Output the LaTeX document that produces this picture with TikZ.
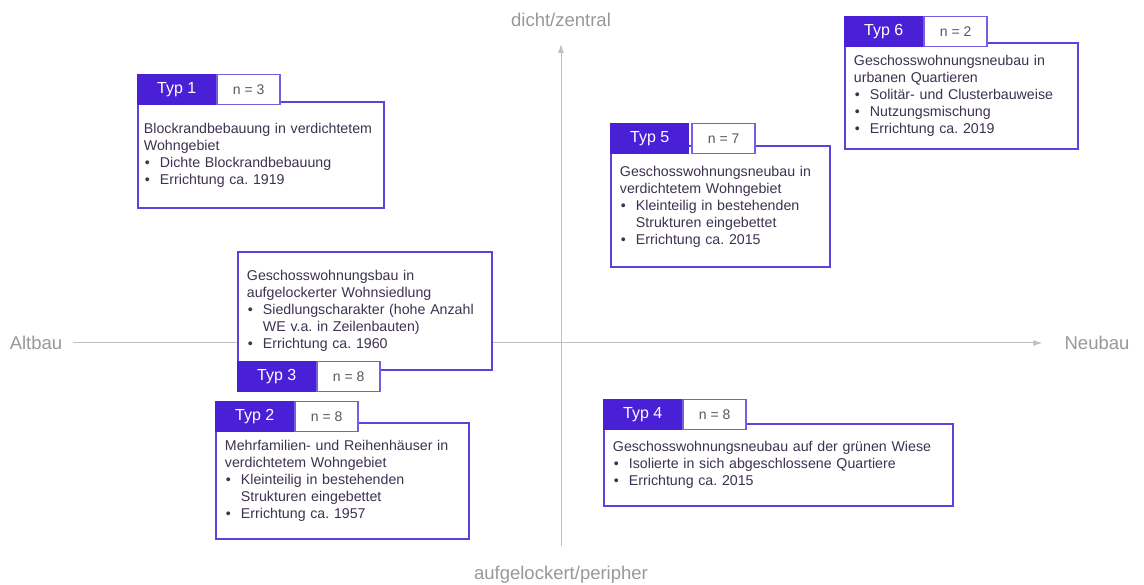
\documentclass[tikz,border=0pt]{standalone}
\usepackage{fontspec}
\setmainfont{Liberation Sans}
\usetikzlibrary{arrows.meta,positioning}

\definecolor{typviolet}{HTML}{4A20D6}
\definecolor{typborder}{HTML}{5E42DE}
\definecolor{typtext}{HTML}{3F3150}
\definecolor{axisgray}{HTML}{BFBFBF}
\definecolor{labelgray}{HTML}{989898}
\definecolor{ngray}{HTML}{595959}

\newcommand{\bul}{\makebox[16pt][l]{\hspace{1pt}\textbullet}}
\newcommand{\ind}{\hspace*{16pt}}
\frenchspacing

\begin{document}
\begin{tikzpicture}[x=1pt,y=-1pt,
    axis/.style={draw=axisgray, line width=1pt, -{Latex[length=9pt,width=6pt]}},
    axislabel/.style={text=labelgray, font=\fontsize{18.5}{22}\selectfont, inner sep=0pt},
    typbox/.style={draw=typborder, fill=white, line width=1.9pt, anchor=north west,
        inner sep=0pt, inner xsep=9pt, align=left, text=typtext,
        font=\fontsize{14.2}{17}\selectfont},
    typhead/.style={fill=typviolet, draw=typviolet, line width=1.4pt, minimum width=78pt,
        minimum height=30pt, inner sep=0pt, text=white, font=\fontsize{16}{19}\selectfont},
    nbox/.style={draw=typborder!85, fill=white, line width=1.6pt, minimum width=63pt,
        minimum height=30pt, inner sep=0pt, text=ngray, font=\fontsize{14}{17}\selectfont,
        anchor=north west}]

    \useasboundingbox (0,0) rectangle (1144,585);

    % Axis labels
    \node[axislabel] (altbau) at (36,343) {Altbau};
    \node[axislabel] (neubau) at (1097,343) {Neubau};
    \node[axislabel] (dicht) at (561,20) {dicht/zentral};
    \node[axislabel] (aufg) at (561,575) {aufgelockert/peripher};

    % Draw the axes
    \draw[axis, shorten <=11pt, shorten >=22pt] (altbau) -- (neubau);
    \draw[axis, shorten <=20pt, shorten >=17pt] (aufg) -- (dicht);

    % Typ 1
    \node[typbox, inner xsep=6pt, text width=234pt, minimum height=106pt] (typ1) at (137,101)
        {Blockrandbebauung in verdichtetem\\ Wohngebiet\\ \bul Dichte Blockrandbebauung\\ \bul Errichtung ca. 1919};
    \node[typhead, anchor=south west] (typ1head) at ([yshift=-4pt]typ1.north west) {Typ 1};
    \node[nbox] (typ1n) at (typ1head.north east) {n = 3};

    % Typ 3
    \node[typbox, text width=236pt, minimum height=118pt] (typ3) at (237,251)
        {Geschosswohnungsbau in\\ aufgelockerter Wohnsiedlung\\ \bul Siedlungscharakter (hohe Anzahl\\ \ind WE v.a. in Zeilenbauten)\\ \bul Errichtung ca. 1960};
    \node[typhead, anchor=north west] (typ3head) at ([yshift=10pt]typ3.south west) {Typ 3};
    \node[nbox] (typ3n) at (typ3head.north east) {n = 8};

    % Typ 2
    \node[typbox, text width=235pt, minimum height=116pt] (typ2) at (215,422)
        {Mehrfamilien- und Reihenhäuser in\\ verdichtetem Wohngebiet\\ \bul Kleinteilig in bestehenden\\ \ind Strukturen eingebettet\\ \bul Errichtung ca. 1957};
    \node[typhead, anchor=south west] (typ2head) at ([yshift=-10pt]typ2.north west) {Typ 2};
    \node[nbox] (typ2n) at (typ2head.north east) {n = 8};

    % Typ 5
    \node[typbox, text width=201pt, minimum height=121pt] (typ5) at (610,145)
        {Geschosswohnungsneubau in\\ verdichtetem Wohngebiet\\ \bul Kleinteilig in bestehenden\\ \ind Strukturen eingebettet\\ \bul Errichtung ca. 2015};
    \node[typhead, anchor=south west] (typ5head) at ([yshift=-9pt]typ5.north west) {Typ 5};
    \node[nbox] (typ5n) at ([xshift=2pt]typ5head.north east) {n = 7};

    % Typ 6
    \node[typbox, text width=215pt, minimum height=106pt] (typ6) at (844,42)
        {Geschosswohnungsneubau in\\ urbanen Quartieren\\ \bul Solitär- und Clusterbauweise\\ \bul Nutzungsmischung\\ \bul Errichtung ca. 2019};
    \node[typhead, anchor=south west] (typ6head) at ([yshift=-5pt]typ6.north west) {Typ 6};
    \node[nbox] (typ6n) at (typ6head.north east) {n = 2};

    % Typ 4
    \node[typbox, text width=331pt, minimum height=82pt] (typ4) at (603,423)
        {Geschosswohnungsneubau auf der grünen Wiese\\ \bul Isolierte in sich abgeschlossene Quartiere\\ \bul Errichtung ca. 2015};
    \node[typhead, anchor=south west] (typ4head) at ([yshift=-7pt]typ4.north west) {Typ 4};
    \node[nbox] (typ4n) at (typ4head.north east) {n = 8};

\end{tikzpicture}
\end{document}
